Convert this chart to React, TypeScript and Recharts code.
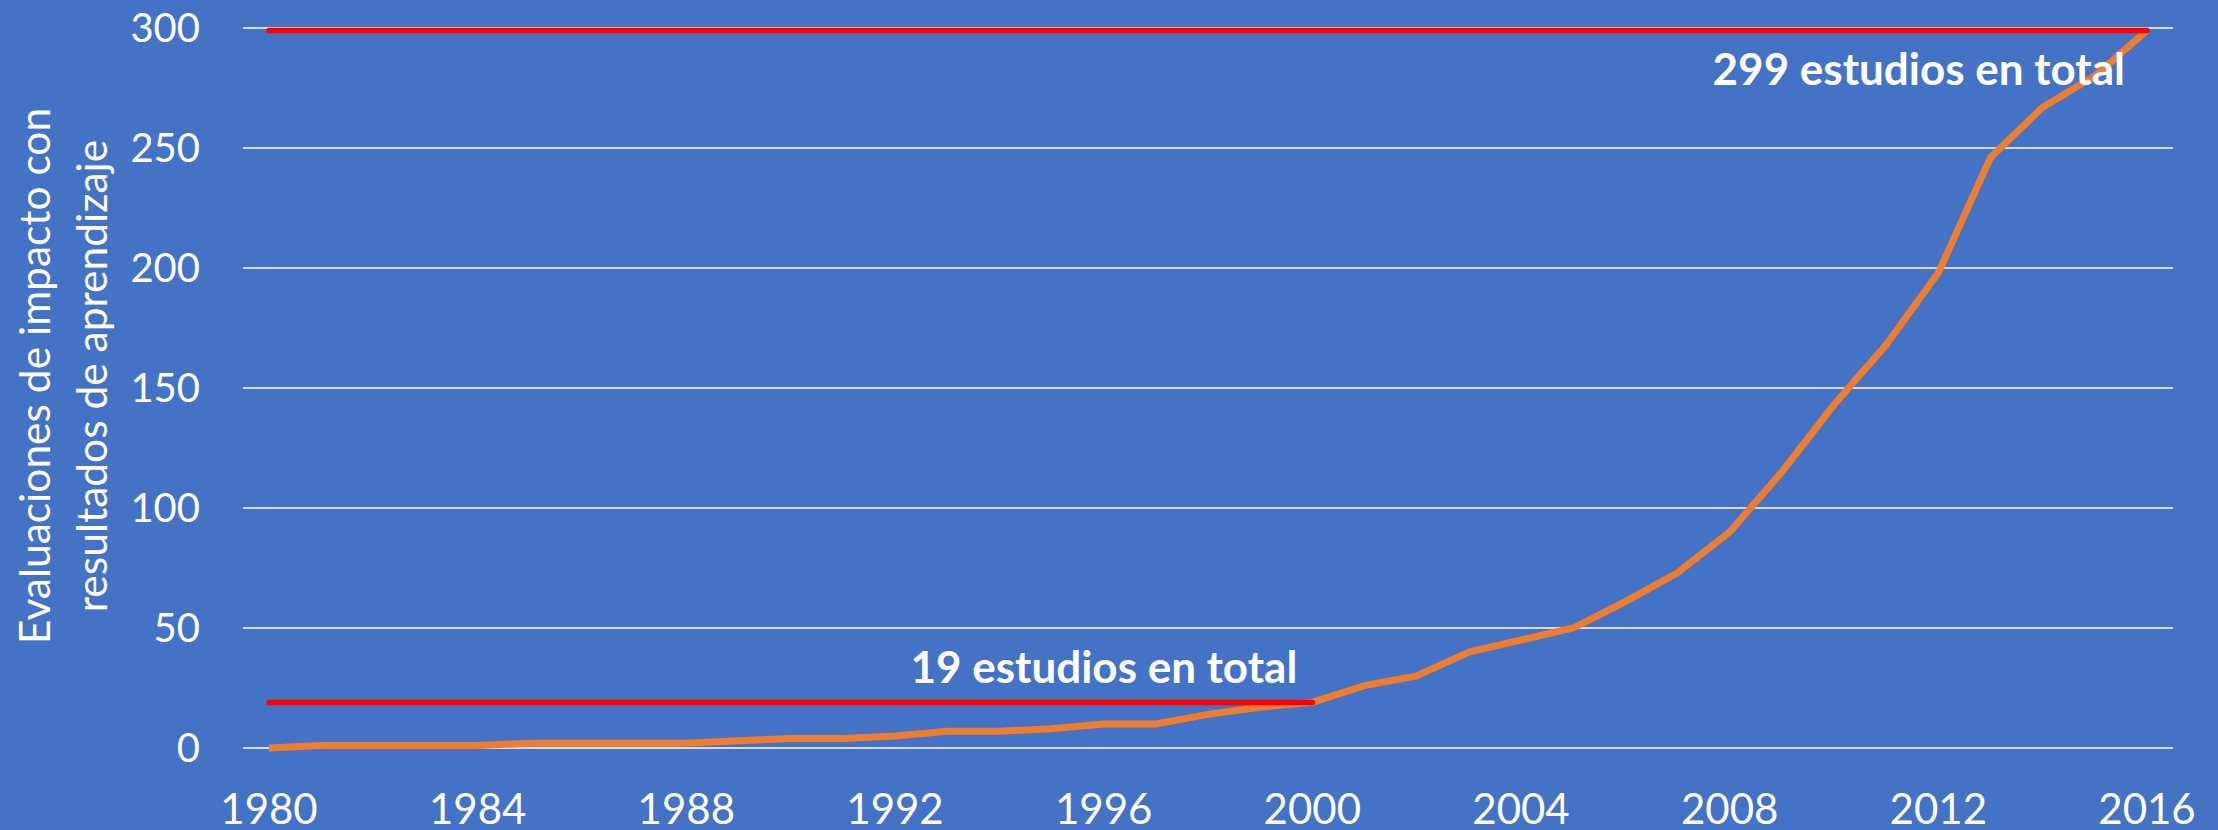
import React from 'react';
import { LineChart, Line, XAxis, YAxis, CartesianGrid, ReferenceLine } from 'recharts';

const years = [
  1980, 1981, 1982, 1983, 1984, 1985, 1986, 1987, 1988, 1989,
  1990, 1991, 1992, 1993, 1994, 1995, 1996, 1997, 1998, 1999,
  2000, 2001, 2002, 2003, 2004, 2005, 2006, 2007, 2008, 2009,
  2010, 2011, 2012, 2013, 2014, 2015, 2016,
];
const studies = [
  0, 1, 1, 1, 1, 2, 2, 2, 2, 3,
  4, 4, 5, 7, 7, 8, 10, 10, 14, 17,
  19, 26, 30, 40, 45, 50, 61, 73, 90, 115,
  143, 168, 198, 246, 267, 280, 299,
];
const yTicks = [0, 50, 100, 150, 200, 250, 300];
const xTicks = [1980, 1984, 1988, 1992, 1996, 2000, 2004, 2008, 2012, 2016];
const TOTAL_2000 = 19;
const TOTAL_2016 = 299;
const titleLines = ['Evaluaciones de impacto con', 'resultados de aprendizaje'];
const label2000 = '19 estudios en total';
const label2016 = '299 estudios en total';

const data = years.map((year, i) => ({ year, studies: studies[i] }));

const FONT = 'Lato, "Open Sans", sans-serif';

const XTick = (props: any) => (
  <text x={props.x} y={props.y + 76} textAnchor="middle" fill="#ffffff" fontSize={42} fontFamily={FONT}>
    {props.payload.value}
  </text>
);

const YTick = (props: any) => (
  <text x={props.x - 43} y={props.y} dy="0.36em" textAnchor="end" fill="#ffffff" fontSize={40} fontFamily={FONT}>
    {props.payload.value}
  </text>
);

const renderTitle = (props: any) => {
  const vb = props.viewBox || { x: 0, y: 28, width: 243, height: 720 };
  const cx = 73;
  const cy = vb.y + vb.height / 2 - 12;
  return (
    <text
      transform={`rotate(-90, ${cx}, ${cy})`}
      x={cx}
      y={cy}
      textAnchor="middle"
      fill="#ffffff"
      fontSize={42.5}
      fontWeight={400}
      fontFamily={FONT}
    >
      <tspan x={cx} y={cy - 23}>{titleLines[0]}</tspan>
      <tspan x={cx} y={cy + 34}>{titleLines[1]}</tspan>
    </text>
  );
};

const makeNote = (text: string, dx: number, dy: number) => (props: any) => {
  const vb = props.viewBox;
  if (!vb) return null;
  return (
    <text
      x={vb.x + vb.width - dx}
      y={vb.y + dy}
      textAnchor="end"
      fill="#ffffff"
      fontSize={44}
      fontWeight={700}
      fontFamily={FONT}
    >
      {text}
    </text>
  );
};

export default function App() {
  return (
    <div style={{ position: 'absolute', left: 0, top: 0, width: 2218, height: 830, background: '#4472C4' }}>
      <LineChart width={2218} height={830} data={data} margin={{ top: 28, right: 45, bottom: 0, left: 0 }}>
        <CartesianGrid vertical={false} stroke="#D9D9D9" strokeWidth={2} />
        <XAxis
          dataKey="year"
          type="category"
          ticks={xTicks}
          interval={0}
          height={82}
          axisLine={false}
          tickLine={false}
          tickSize={0}
          tickMargin={0}
          padding={{ left: 26, right: 26 }}
          tick={<XTick />}
        />
        <YAxis
          type="number"
          domain={[0, 300]}
          ticks={yTicks}
          width={243}
          axisLine={false}
          tickLine={false}
          tickSize={0}
          tickMargin={0}
          tick={<YTick />}
          label={{ content: renderTitle }}
        />
        <Line
          type="linear"
          dataKey="studies"
          stroke="#ED7D31"
          strokeWidth={7}
          dot={false}
          isAnimationActive={false}
        />
        <ReferenceLine
          segment={[{ x: 1980, y: TOTAL_2000 }, { x: 2000, y: TOTAL_2000 }]}
          stroke="#FF0000"
          strokeWidth={5.5}
          strokeLinecap="round"
          ifOverflow="visible"
          label={{ content: makeNote(label2000, 15, -19) }}
        />
        <ReferenceLine
          segment={[{ x: 1980, y: TOTAL_2016 }, { x: 2016, y: TOTAL_2016 }]}
          stroke="#FF0000"
          strokeWidth={5.5}
          strokeLinecap="round"
          ifOverflow="visible"
          label={{ content: makeNote(label2016, 22, 55) }}
        />
      </LineChart>
    </div>
  );
}
